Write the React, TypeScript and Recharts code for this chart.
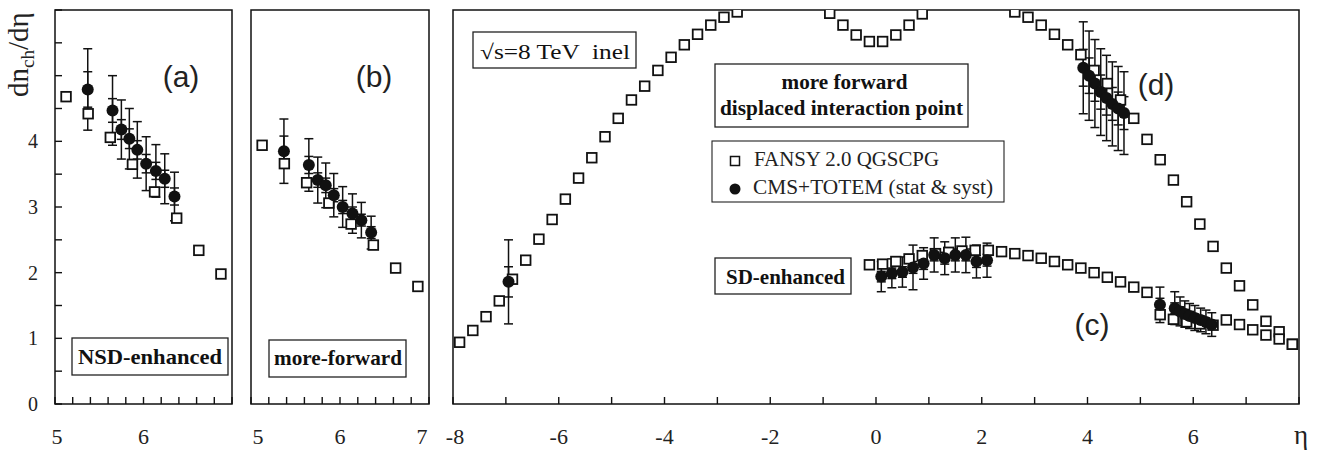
import React from 'react';
import { ScatterChart, Scatter, XAxis, YAxis, ErrorBar, ReferenceArea } from 'recharts';

const W = 1320;
const H = 456;
const SERIF = '"Liberation Serif", "Times New Roman", serif';
const SANS = '"Liberation Sans", Arial, sans-serif';

// ---------- Panel (a): NSD-enhanced ----------
const aModelX = [5.125, 5.375, 5.625, 5.875, 6.125, 6.375, 6.625, 6.875];
const aModelY = [4.68, 4.42, 4.06, 3.65, 3.23, 2.83, 2.34, 1.98];
const aDataX = [5.37, 5.65, 5.75, 5.84, 5.93, 6.03, 6.14, 6.24, 6.35];
const aDataY = [4.79, 4.47, 4.18, 4.04, 3.87, 3.66, 3.55, 3.43, 3.16];
const aTotErr = [0.62, 0.53, 0.45, 0.46, 0.43, 0.41, 0.4, 0.38, 0.37];
const aStatErr = [0.27, 0.18, 0.15, 0.15, 0.14, 0.14, 0.13, 0.13, 0.13];

// ---------- Panel (b): more-forward ----------
const bModelX = [5.125, 5.375, 5.625, 5.875, 6.125, 6.375, 6.625, 6.875];
const bModelY = [3.94, 3.66, 3.37, 3.06, 2.74, 2.42, 2.07, 1.79];
const bDataX = [5.37, 5.65, 5.75, 5.84, 5.93, 6.03, 6.14, 6.24, 6.35];
const bDataY = [3.85, 3.64, 3.41, 3.33, 3.18, 3.0, 2.9, 2.8, 2.61];
const bTotErr = [0.49, 0.4, 0.35, 0.34, 0.33, 0.31, 0.3, 0.27, 0.25];
const bStatErr = [0.23, 0.13, 0.11, 0.11, 0.1, 0.1, 0.1, 0.09, 0.09];

// ---------- Panel (c)/(d): full eta range ----------
const inelX = [
  -7.875, -7.625, -7.375, -7.125, -6.875, -6.625, -6.375, -6.125, -5.875, -5.625, -5.375, -5.125,
  -4.875, -4.625, -4.375, -4.125, -3.875, -3.625, -3.375, -3.125, -2.875, -2.625, -2.375, -2.125,
  -1.875, -1.625, -1.375, -1.125, -0.875, -0.625, -0.375, -0.125, 0.125, 0.375, 0.625, 0.875,
  1.125, 1.375, 1.625, 1.875, 2.125, 2.375, 2.625, 2.875, 3.125, 3.375, 3.625, 3.875,
  4.125, 4.375, 4.625, 4.875, 5.125, 5.375, 5.625, 5.875, 6.125, 6.375, 6.625, 6.875,
  7.125, 7.375, 7.625, 7.875,
];
const inelY = [
  0.94, 1.12, 1.33, 1.57, 1.9, 2.19, 2.51, 2.81, 3.12, 3.44, 3.75, 4.07,
  4.35, 4.63, 4.84, 5.08, 5.28, 5.47, 5.63, 5.77, 5.89, 5.97, 6.15, 6.25,
  6.3, 6.3, 6.25, 6.15, 5.95, 5.77, 5.62, 5.52, 5.52, 5.62, 5.77, 5.94,
  6.15, 6.25, 6.3, 6.3, 6.25, 6.15, 5.97, 5.89, 5.77, 5.63, 5.47, 5.32,
  5.08, 4.88, 4.63, 4.35, 4.03, 3.72, 3.41, 3.08, 2.74, 2.4, 2.07, 1.8,
  1.51, 1.26, 1.1, 0.91,
];
const sdModelX = [
  -0.125, 0.125, 0.375, 0.625, 0.875, 1.125, 1.375, 1.625, 1.875, 2.125, 2.375, 2.625,
  2.875, 3.125, 3.375, 3.625, 3.875, 4.125, 4.375, 4.625, 4.875, 5.125, 5.375, 5.625,
  5.875, 6.125, 6.375, 6.625, 6.875, 7.125, 7.375, 7.625, 7.875,
];
const sdModelY = [
  2.12, 2.13, 2.17, 2.21, 2.26, 2.29, 2.31, 2.33, 2.34, 2.34, 2.32, 2.29,
  2.26, 2.22, 2.17, 2.12, 2.07, 2.0, 1.93, 1.86, 1.78, 1.7, 1.36, 1.29,
  1.25, 1.22, 1.2, 1.28, 1.21, 1.13, 1.05, 0.99, 0.91,
];
// CMS+TOTEM data
const fwdDataX = [-6.95];
const fwdDataY = [1.86];
const fwdTotErr = [0.64];
const fwdStatErr = [0.23];

const sdDataX = [0.1, 0.3, 0.5, 0.7, 0.9, 1.1, 1.3, 1.5, 1.7, 1.9, 2.1];
const sdDataY = [1.94, 1.99, 2.01, 2.08, 2.14, 2.27, 2.22, 2.27, 2.27, 2.17, 2.19];
const sdTotErr = [0.23, 0.22, 0.23, 0.34, 0.24, 0.26, 0.25, 0.26, 0.27, 0.25, 0.26];
const sdStatErr = [0.08, 0.08, 0.08, 0.09, 0.09, 0.09, 0.09, 0.09, 0.09, 0.09, 0.09];

const cDataX = [5.37, 5.65, 5.75, 5.84, 5.93, 6.03, 6.14, 6.24, 6.35];
const cDataY = [1.51, 1.46, 1.41, 1.37, 1.34, 1.31, 1.28, 1.25, 1.21];
const cTotErr = [0.27, 0.25, 0.22, 0.2, 0.19, 0.19, 0.18, 0.18, 0.18];
const cStatErr = [0.1, 0.08, 0.07, 0.07, 0.07, 0.06, 0.06, 0.06, 0.06];

const dDataX = [3.92, 4.03, 4.14, 4.25, 4.36, 4.47, 4.58, 4.69];
const dDataY = [5.12, 5.0, 4.88, 4.75, 4.66, 4.57, 4.5, 4.43];
const dTotErr = [0.7, 0.68, 0.67, 0.66, 0.65, 0.64, 0.64, 0.63];
const dStatErr = [0.28, 0.27, 0.27, 0.26, 0.26, 0.25, 0.25, 0.25];

// ---------- axes ----------
const yTicks = [0, 0.5, 1, 1.5, 2, 2.5, 3, 3.5, 4, 4.5, 5, 5.5, 6];
const yLabelVals = [0, 1, 2, 3, 4];
const abTicksX = [5, 5.2, 5.4, 5.6, 5.8, 6, 6.2, 6.4, 6.6, 6.8, 7];
const aLabelVals = [5, 6];
const aLabelTexts = ['5', '6'];
const bLabelVals = [5, 6, 7];
const bLabelTexts = ['5', '6', '7'];
const cTicksX = [-8, -7, -6, -5, -4, -3, -2, -1, 0, 1, 2, 3, 4, 5, 6, 7, 8];
const cLabelVals = [-8, -6, -4, -2, 0, 2, 4, 6, 8];
const cLabelTexts = ['-8', '-6', '-4', '-2', '0', '2', '4', '6', 'η'];

const pts = (xs: number[], ys: number[]) => xs.map((x, i) => ({ x, y: ys[i] }));
const ptsErr = (xs: number[], ys: number[], tot: number[], stat: number[]) =>
  xs.map((x, i) => ({ x, y: ys[i], tot: tot[i], stat: stat[i] }));

const Square = (p: any) => {
  if (p.cx == null || p.cy == null) return null;
  return (
    <rect x={p.cx - 4.8} y={p.cy - 4.8} width={9.6} height={9.6} fill="#fff" stroke="#111" strokeWidth={1.8} />
  );
};
const Dot = (p: any) => {
  if (p.cx == null || p.cy == null) return null;
  return <circle cx={p.cx} cy={p.cy} r={6} fill="#111" />;
};

const makeXTick = (vals: number[], texts: string[], nudges: number[]) => (props: any) => {
  const { x, y, payload } = props;
  const v = payload.value;
  const idx = vals.findIndex((l) => Math.abs(l - v) < 1e-6);
  const isEta = idx >= 0 && texts[idx] === 'η';
  return (
    <g>
      <line x1={x} y1={y} x2={x} y2={y - 7} stroke="#111" strokeWidth={1.4} />
      {idx >= 0 && (
        <text
          x={x + nudges[idx]}
          y={y + 40}
          textAnchor="middle"
          fontFamily={SERIF}
          fontSize={isEta ? 27 : 22}
          fill="#222"
        >
          {texts[idx]}
        </text>
      )}
    </g>
  );
};

const yTickA = (props: any) => {
  const { x, y, payload } = props;
  const v = payload.value;
  const lab = yLabelVals.some((l) => Math.abs(l - v) < 1e-6);
  return (
    <g>
      <line x1={x} y1={y} x2={x + 7} y2={y} stroke="#111" strokeWidth={1.4} />
      {lab && (
        <text x={x - 17} y={y + 7} textAnchor="end" fontFamily={SERIF} fontSize={20} fill="#222">
          {v}
        </text>
      )}
    </g>
  );
};

const Frame = ({ x1, x2 }: { x1: number; x2: number }) => (
  <ReferenceArea x1={x1} x2={x2} y1={0} y2={6} fill="none" fillOpacity={0} stroke="#111" strokeWidth={1.5} ifOverflow="visible" />
);

const abs: React.CSSProperties = { position: 'absolute', left: 0, top: 0 };

function PanelA() {
  return (
    <div style={abs}>
      <ScatterChart width={W} height={H} margin={{ top: 10, right: 1088, bottom: 22, left: 15 }}>
        <XAxis type="number" dataKey="x" domain={[5, 7]} ticks={abTicksX} interval={0} height={30}
          axisLine={false} tickLine={false} tickSize={0} tickMargin={0}
          tick={makeXTick(aLabelVals, aLabelTexts, [2, 0])} />
        <YAxis type="number" dataKey="y" domain={[0, 6]} ticks={yTicks} interval={0} width={40}
          axisLine={false} tickLine={false} tickSize={0} tickMargin={0} allowDataOverflow tick={yTickA} />
        {Frame({ x1: 5, x2: 7 })}
        <Scatter data={pts(aModelX, aModelY)} shape={Square} isAnimationActive={false} />
        <Scatter data={ptsErr(aDataX, aDataY, aTotErr, aStatErr)} shape={Dot} isAnimationActive={false}>
          <ErrorBar dataKey="tot" direction="y" width={4.5} stroke="#111" strokeWidth={1.5} isAnimationActive={false} />
          <ErrorBar dataKey="stat" direction="y" width={4.5} stroke="#111" strokeWidth={1.5} isAnimationActive={false} />
        </Scatter>
      </ScatterChart>
    </div>
  );
}

function PanelB() {
  return (
    <div style={abs}>
      <ScatterChart width={W} height={H} margin={{ top: 10, right: 891, bottom: 22, left: 251 }}>
        <XAxis type="number" dataKey="x" domain={[5, 7]} ticks={abTicksX} interval={0} height={30}
          axisLine={false} tickLine={false} tickSize={0} tickMargin={0}
          tick={makeXTick(bLabelVals, bLabelTexts, [7, 0, -7])} />
        <YAxis type="number" dataKey="y" domain={[0, 6]} hide allowDataOverflow />
        {Frame({ x1: 5, x2: 7 })}
        <Scatter data={pts(bModelX, bModelY)} shape={Square} isAnimationActive={false} />
        <Scatter data={ptsErr(bDataX, bDataY, bTotErr, bStatErr)} shape={Dot} isAnimationActive={false}>
          <ErrorBar dataKey="tot" direction="y" width={4.5} stroke="#111" strokeWidth={1.5} isAnimationActive={false} />
          <ErrorBar dataKey="stat" direction="y" width={4.5} stroke="#111" strokeWidth={1.5} isAnimationActive={false} />
        </Scatter>
      </ScatterChart>
    </div>
  );
}

function PanelC() {
  const dataSets = [
    ptsErr(fwdDataX, fwdDataY, fwdTotErr, fwdStatErr),
    ptsErr(sdDataX, sdDataY, sdTotErr, sdStatErr),
    ptsErr(cDataX, cDataY, cTotErr, cStatErr),
    ptsErr(dDataX, dDataY, dTotErr, dStatErr),
  ];
  return (
    <div style={abs}>
      <ScatterChart width={W} height={H} margin={{ top: 10, right: 21, bottom: 22, left: 453 }}>
        <XAxis type="number" dataKey="x" domain={[-8, 8]} ticks={cTicksX} interval={0} height={30}
          axisLine={false} tickLine={false} tickSize={0} tickMargin={0}
          tick={makeXTick(cLabelVals, cLabelTexts, [2, 0, 0, 0, 0, 0, 0, 0, 2])} />
        <YAxis type="number" dataKey="y" domain={[0, 6]} hide allowDataOverflow />
        {Frame({ x1: -8, x2: 8 })}
        <Scatter data={pts(inelX, inelY)} shape={Square} isAnimationActive={false} />
        <Scatter data={pts(sdModelX, sdModelY)} shape={Square} isAnimationActive={false} />
        {dataSets.map((d, i) => (
          <Scatter key={i} data={d} shape={Dot} isAnimationActive={false}>
            <ErrorBar dataKey="tot" direction="y" width={4.5} stroke="#111" strokeWidth={1.5} isAnimationActive={false} />
            <ErrorBar dataKey="stat" direction="y" width={4.5} stroke="#111" strokeWidth={1.5} isAnimationActive={false} />
          </Scatter>
        ))}
      </ScatterChart>
    </div>
  );
}

const boxStroke = '#222';

function Annotations() {
  return (
    <svg width={W} height={H} style={{ ...abs, pointerEvents: 'none' }}>
      {/* y axis title */}
      <text transform="translate(28,97) rotate(-90)" fontFamily={SERIF} fontSize={29} fill="#222">
        <tspan>dn</tspan>
        <tspan fontSize={19} dy={6}>ch</tspan>
        <tspan dy={-6}>/dη</tspan>
      </text>

      {/* panel letters */}
      <text x={181} y={87} textAnchor="middle" fontFamily={SANS} fontSize={30} fill="#222">(a)</text>
      <text x={374} y={87} textAnchor="middle" fontFamily={SANS} fontSize={30} fill="#222">(b)</text>
      <text x={1092} y={335} textAnchor="middle" fontFamily={SANS} fontSize={30} fill="#222">(c)</text>
      <text x={1156} y={95} textAnchor="middle" fontFamily={SANS} fontSize={30} fill="#222">(d)</text>

      {/* NSD-enhanced */}
      <rect x={72} y={338} width={156} height={37} fill="#fff" stroke={boxStroke} strokeWidth={1.3} />
      <text x={150} y={364} textAnchor="middle" fontFamily={SERIF} fontWeight="bold" fontSize={21}
        textLength={144} lengthAdjust="spacingAndGlyphs" fill="#111">NSD-enhanced</text>

      {/* more-forward */}
      <rect x={269} y={340} width={137} height={37} fill="#fff" stroke={boxStroke} strokeWidth={1.3} />
      <text x={338} y={365} textAnchor="middle" fontFamily={SERIF} fontWeight="bold" fontSize={21}
        textLength={128} lengthAdjust="spacingAndGlyphs" fill="#111">more-forward</text>

      {/* sqrt s box */}
      <rect x={473} y={32} width={163} height={36} fill="#fff" stroke={boxStroke} strokeWidth={1.3} />
      <text x={480} y={59} fontFamily={SERIF} fontSize={21} textLength={150} lengthAdjust="spacingAndGlyphs"
        fill="#111" style={{ whiteSpace: 'pre' }}>{'√s=8 TeV  inel'}</text>

      {/* more forward displaced */}
      <rect x={715} y={64} width={253} height={63} fill="#fff" stroke={boxStroke} strokeWidth={1.3} />
      <text x={844.5} y={89} textAnchor="middle" fontFamily={SERIF} fontWeight="bold" fontSize={21}
        textLength={126} lengthAdjust="spacingAndGlyphs" fill="#111">more forward</text>
      <text x={841.5} y={115} textAnchor="middle" fontFamily={SERIF} fontWeight="bold" fontSize={21}
        textLength={243} lengthAdjust="spacingAndGlyphs" fill="#111">displaced interaction point</text>

      {/* legend */}
      <rect x={712} y={141} width={292} height={61} fill="#fff" stroke={boxStroke} strokeWidth={1.1} />
      <rect x={730.5} y={156.5} width={9} height={9} fill="#fff" stroke="#111" strokeWidth={1.5} />
      <text x={754} y={166} fontFamily={SERIF} fontSize={20} textLength={185} lengthAdjust="spacingAndGlyphs"
        fill="#222">FANSY 2.0 QGSCPG</text>
      <circle cx={735} cy={189} r={5.5} fill="#111" />
      <text x={753} y={194} fontFamily={SERIF} fontSize={20.5} textLength={240} lengthAdjust="spacingAndGlyphs"
        fill="#222">CMS+TOTEM (stat &amp; syst)</text>

      {/* SD-enhanced */}
      <rect x={715} y={258} width={136} height={36} fill="#fff" stroke={boxStroke} strokeWidth={1.3} />
      <text x={785.5} y={284} textAnchor="middle" fontFamily={SERIF} fontWeight="bold" fontSize={21}
        textLength={119} lengthAdjust="spacingAndGlyphs" fill="#111">SD-enhanced</text>
    </svg>
  );
}

export default function App() {
  return (
    <div style={{ position: 'absolute', left: 0, top: 0, width: W, height: H, background: '#fff', overflow: 'hidden' }}>
      <PanelA />
      <PanelB />
      <PanelC />
      <Annotations />
    </div>
  );
}
